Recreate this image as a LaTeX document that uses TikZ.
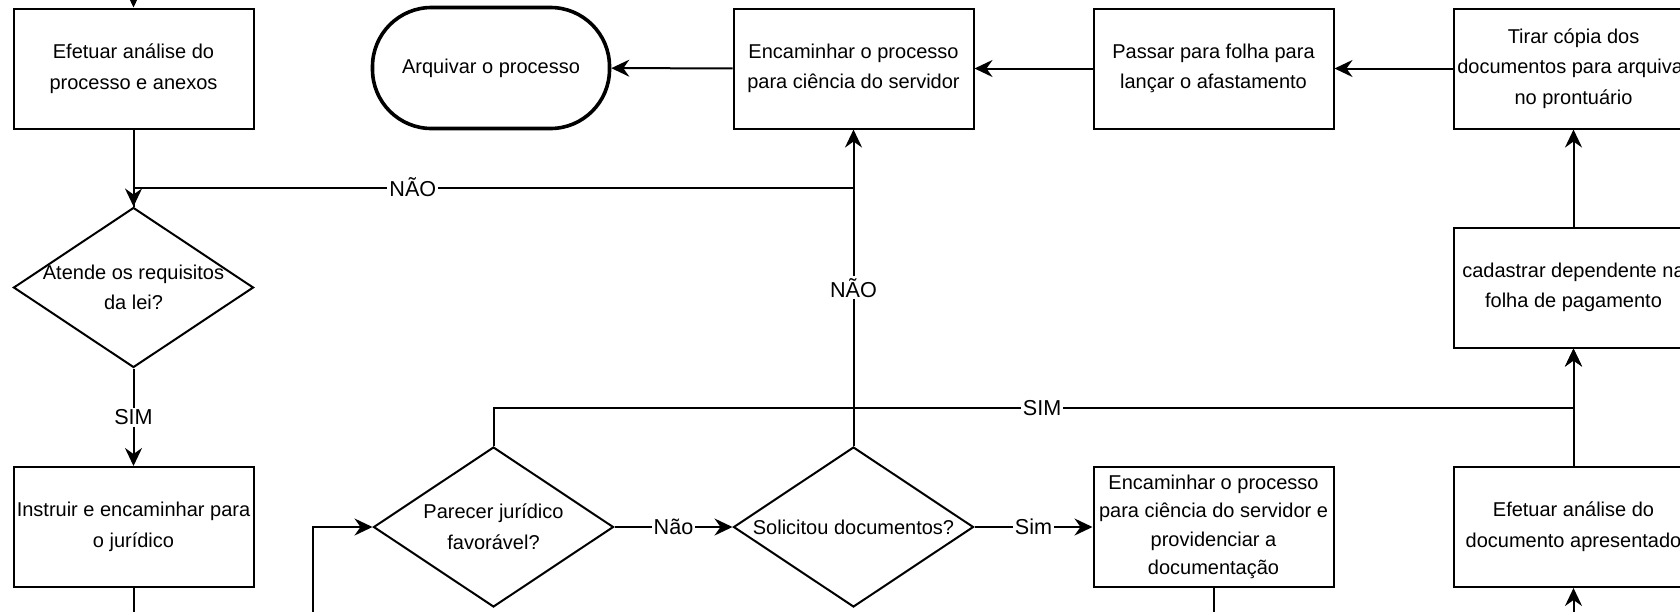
\documentclass[tikz,border=0pt]{standalone}
\usepackage{fontspec}
\setmainfont{Liberation Sans}
\usetikzlibrary{arrows.meta,shapes.geometric}

\begin{document}
\begin{tikzpicture}[x=0.5pt,y=-0.5pt,line width=1pt,>={Stealth[length=9pt,width=8.5pt,inset=3pt]},
	font=\fontsize{10}{15.3}\selectfont,
	caixa/.style={draw,rectangle,minimum width=120pt,minimum height=60pt,inner sep=0pt,align=center},
	losango/.style={draw,diamond,minimum width=120pt,minimum height=80pt,inner sep=0pt},
	terminal/.style={draw,rectangle,rounded corners=29.5pt,line width=1.8pt,minimum width=118.5pt,minimum height=60.5pt,inner sep=0pt},
	rotulo/.style={fill=white,inner sep=1pt,font=\fontsize{10.8}{13}\selectfont}]
		\useasboundingbox (0,0) rectangle (1680,611);
		\clip (0,0) rectangle (1680,611);
		\fill[white] (0,0) rectangle (1680,611);
		% linha de cima
		\node[caixa] (efet) at (133.5,68.5) {Efetuar análise do\\processo e anexos};
		\node[terminal] (arq) at (491,68) {Arquivar o processo};
		\node[caixa] (enc) at (853.5,68.5) {Encaminhar o processo\\para ciência do servidor};
		\node[caixa] (passar) at (1213.5,68.5) {Passar para folha para\\lançar o afastamento};
		\node[caixa] (tirar) at (1573.5,68.5) {Tirar cópia dos\\documentos para arquivar\\no prontuário};
		% linha do meio
		\node[losango] (atende) at (133.5,287.5) {};
		\node[align=center] at (atende) {Atende os requisitos\\da lei?};
		\node[caixa] (cad) at (1573.5,287.5) {cadastrar dependente na\\folha de pagamento};
		% linha de baixo
		\node[caixa] (instr) at (133.5,527) {Instruir e encaminhar para\\o jurídico};
		\node[losango] (parecer) at (493.5,527) {};
		\node[align=center] at (parecer) {Parecer jurídico\\favorável?};
		\node[losango] (solic) at (853.5,527) {};
		\node at (solic) {Solicitou documentos?};
		\node[caixa,font=\fontsize{10}{14.2}\selectfont] (enc2) at (1213.5,527) {Encaminhar o processo\\para ciência do servidor e\\providenciar a\\documentação};
		\node[caixa] (efdoc) at (1573.5,527) {Efetuar análise do\\documento apresentado};
		% pontas soltas
		\coordinate (topo) at (133.5,-20);
		\coordinate (jn) at (853.5,187.5);
		\coordinate (js) at (1573.5,408);
		\coordinate (baixo1) at (133.5,640);
		\coordinate (baixo2) at (312.9,640);
		\coordinate (baixo3) at (1213.5,640);
		\coordinate (baixo4) at (1573.5,640);
		% conexoes
		\draw[->] (topo) -- (efet.north);
		\draw[->] (efet) -- (atende);
		\draw (atende.north) |- node[rotulo,pos=0.694]{NÃO} (jn);
		\draw[->] (atende) -- node[rotulo]{SIM} (instr);
		\draw (instr.south) -- (baixo1);
		\draw[->] (baixo2) |- (parecer.west);
		\draw[->] (parecer) -- node[rotulo]{Não} (solic);
		\draw[->] (solic) -- node[rotulo]{Sim} (enc2);
		\draw (enc2.south) -- (baixo3);
		\draw[->] (solic.north) -- node[rotulo]{NÃO} (enc.south);
		\draw[->] (parecer.north) |- node[rotulo,pos=0.754]{SIM} (js) -- (cad.south);
		\draw[->] (baixo4) -- (efdoc.south);
		\draw[->] (efdoc) -- (cad);
		\draw[->] (cad) -- (tirar);
		\draw[->] (tirar) -- (passar);
		\draw[->] (passar) -- (enc);
		\draw[->] (enc) -- (arq);
	\end{tikzpicture}
\end{document}
